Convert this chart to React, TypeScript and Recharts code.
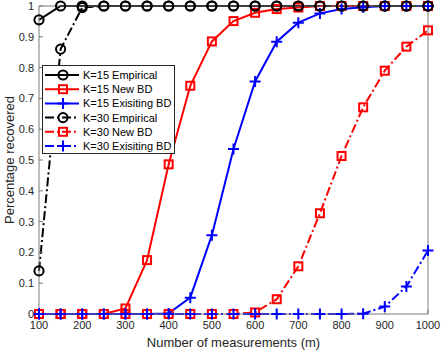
import React from "react";
import {
  LineChart,
  Line,
  XAxis,
  YAxis,
  Legend,
  Label,
} from "recharts";

const measurements = [
  100, 150, 200, 250, 300, 350, 400, 450, 500, 550, 600, 650, 700, 750, 800,
  850, 900, 950, 1000,
];
const k15Empirical = [
  0.955, 1, 1, 1, 1, 1, 1, 1, 1, 1, 1, 1, 1, 1, 1, 1, 1, 1, 1,
];
const k15NewBD = [
  0, 0, 0, 0, 0.018, 0.175, 0.486, 0.741, 0.885, 0.951, 0.978, 0.99, 0.995, 1,
  1, 1, 1, 1, 1,
];
const k15ExistingBD = [
  0, 0, 0, 0, 0, 0, 0.002, 0.053, 0.256, 0.536, 0.755, 0.884, 0.946, 0.976,
  0.99, 0.996, 1, 1, 1,
];
const k30Empirical = [
  0.14, 0.86, 0.995, 1, 1, 1, 1, 1, 1, 1, 1, 1, 1, 1, 1, 1, 1, 1, 1,
];
const k30NewBD = [
  0, 0, 0, 0, 0, 0, 0, 0, 0, 0, 0.005, 0.048, 0.155, 0.327, 0.513, 0.671, 0.79,
  0.868, 0.921,
];
const k30ExistingBD = [
  0, 0, 0, 0, 0, 0, 0, 0, 0, 0, 0, 0, 0, 0, 0, 0.001, 0.024, 0.089, 0.206,
];

const xTicks = [100, 200, 300, 400, 500, 600, 700, 800, 900, 1000];
const yTicks = [0, 0.1, 0.2, 0.3, 0.4, 0.5, 0.6, 0.7, 0.8, 0.9, 1];

const data = measurements.map((m, i) => ({
  m,
  k15Empirical: k15Empirical[i],
  k15NewBD: k15NewBD[i],
  k15ExistingBD: k15ExistingBD[i],
  k30Empirical: k30Empirical[i],
  k30NewBD: k30NewBD[i],
  k30ExistingBD: k30ExistingBD[i],
}));

type Shape = "circle" | "square" | "plus";

const DASH_DOT = "9 3 2 3";
const FONT = '"Liberation Sans", Arial, sans-serif';
const AXIS = "#262626";
const AXIS_LINE = "#7a7a7a";

const SERIES: { key: string; name: string; color: string; dash?: string; shape: Shape }[] = [
  { key: "k15Empirical", name: "K=15 Empirical", color: "#000000", shape: "circle" },
  { key: "k15NewBD", name: "K=15 New BD", color: "#ff0000", shape: "square" },
  { key: "k15ExistingBD", name: "K=15 Exisiting BD", color: "#0000ff", shape: "plus" },
  { key: "k30Empirical", name: "K=30 Empirical", color: "#000000", dash: DASH_DOT, shape: "circle" },
  { key: "k30NewBD", name: "K=30 New BD", color: "#ff0000", dash: DASH_DOT, shape: "square" },
  { key: "k30ExistingBD", name: "K=30 Exisiting BD", color: "#0000ff", dash: DASH_DOT, shape: "plus" },
];

function Marker({ shape, color, cx, cy }: { shape: Shape; color: string; cx: number; cy: number }) {
  if (shape === "circle") {
    return <circle cx={cx} cy={cy} r={4.6} fill="none" stroke={color} strokeWidth={2} />;
  }
  if (shape === "square") {
    return <rect x={cx - 4} y={cy - 4} width={8} height={8} fill="none" stroke={color} strokeWidth={2} />;
  }
  return (
    <path
      d={`M${cx - 5.5},${cy}H${cx + 5.5}M${cx},${cy - 5.5}V${cy + 5.5}`}
      stroke={color}
      strokeWidth={2}
      fill="none"
    />
  );
}

function LegendBox() {
  const rowH = 14.2;
  return (
    <svg width={133} height={89} style={{ display: "block" }}>
      <rect x={0.5} y={0.5} width={132} height={88} fill="#ffffff" stroke={AXIS} strokeWidth={1} />
      {SERIES.map((s, i) => {
        const y = 10 + i * rowH;
        return (
          <g key={s.key}>
            <line x1={3} x2={37} y1={y} y2={y} stroke={s.color} strokeWidth={2} strokeDasharray={s.dash} />
            <Marker shape={s.shape} color={s.color} cx={21} cy={y} />
            <text x={41} y={y + 4} fontSize={11} fontFamily={FONT} fill="#000">
              {s.name}
            </text>
          </g>
        );
      })}
    </svg>
  );
}

const fmtY = (v: number) => String(Number(v.toFixed(1)));

export default function App() {
  return (
    <div style={{ position: "absolute", left: 0, top: 0, background: "#fff" }}>
      <LineChart
        width={443}
        height={353}
        data={data}
        margin={{ top: 0, right: 0, bottom: 0, left: 0 }}
        style={{ fontFamily: FONT }}
      >
        <XAxis
          dataKey="m"
          type="number"
          domain={[100, 1000]}
          ticks={xTicks}
          height={39}
          stroke={AXIS_LINE}
          tickSize={-4}
          tickMargin={11}
          tick={{ fontSize: 11, fill: AXIS, fontFamily: FONT }}
        >
          <Label
            value="Number of measurements (m)"
            position="insideBottom"
            offset={6}
            style={{ fontSize: 13, fill: AXIS, fontFamily: FONT }}
          />
        </XAxis>
        <XAxis
          xAxisId="top"
          orientation="top"
          type="number"
          domain={[100, 1000]}
          ticks={xTicks}
          height={6}
          stroke={AXIS_LINE}
          tickSize={-4}
          tick={() => <g />}
        />
        <YAxis
          type="number"
          domain={[0, 1]}
          ticks={yTicks}
          width={39}
          stroke={AXIS_LINE}
          tickSize={-4}
          tickMargin={9}
          tickFormatter={fmtY}
          tick={{ fontSize: 11, fill: AXIS, fontFamily: FONT }}
        >
          <Label
            value="Percentage recovered"
            angle={-90}
            position="center"
            dx={-10}
            style={{ fontSize: 13, fill: AXIS, fontFamily: FONT, textAnchor: "middle" }}
          />
        </YAxis>
        <YAxis
          yAxisId="right"
          orientation="right"
          type="number"
          domain={[0, 1]}
          ticks={yTicks}
          width={15}
          stroke={AXIS_LINE}
          tickSize={-4}
          tick={() => <g />}
        />
        {SERIES.map((s) => (
          <Line
            key={s.key}
            dataKey={s.key}
            name={s.name}
            type="linear"
            stroke={s.color}
            strokeWidth={2}
            strokeDasharray={s.dash}
            isAnimationActive={false}
            dot={(p: any) => (
              <Marker key={`${s.key}-${p.index}`} shape={s.shape} color={s.color} cx={p.cx} cy={p.cy} />
            )}
            activeDot={false}
          />
        ))}
        <Legend
          layout="vertical"
          align="center"
          verticalAlign="middle"
          content={() => <LegendBox />}
          wrapperStyle={{ position: "absolute", left: 42, top: 65, width: 133, height: 89 }}
        />
      </LineChart>
    </div>
  );
}
